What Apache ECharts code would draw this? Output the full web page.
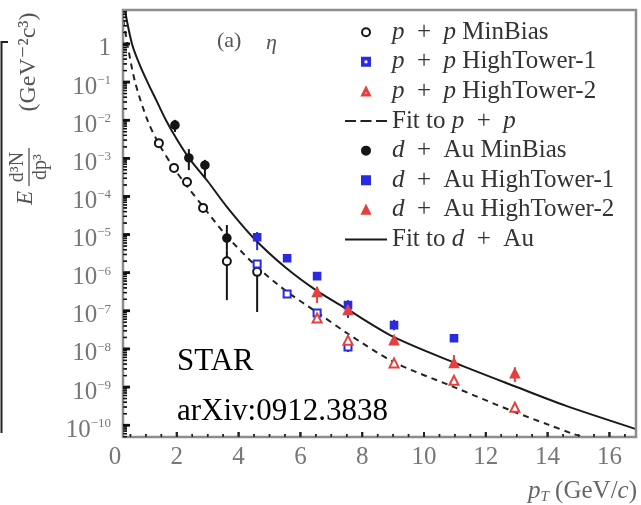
<!DOCTYPE html>
<html>
<head>
<meta charset="utf-8">
<script src="https://cdn.jsdelivr.net/npm/echarts@6/dist/echarts.min.js"></script>
<style>
  html, body { margin: 0; padding: 0; background: #fff; }
  #chart { width: 641px; height: 505px; }
</style>
</head>
<body>
<div id="chart"></div>
<script>
// ---- eta invariant yields vs pT (GeV/c), STAR p+p and d+Au ----
const seriesNames = [
  'p + p MinBias', 'p + p HighTower-1', 'p + p HighTower-2', 'Fit to p + p',
  'd + Au MinBias', 'd + Au HighTower-1', 'd + Au HighTower-2', 'Fit to d + Au'
];

// p+p MinBias
const ppMbPt    = [1.42, 1.91, 2.33, 2.85, 3.62, 4.6];
const ppMbYield = [2.5e-3, 5.6e-4, 2.4e-4, 5.0e-5, 2.0e-6, 1.05e-6];
const ppMbLow   = [2.2e-3, 5.0e-4, 2.1e-4, 4.4e-5, 1.9e-7, 9.3e-8];
const ppMbHigh  = [2.8e-3, 6.3e-4, 2.7e-4, 5.7e-5, 3.9e-6, 1.4e-6];

// p+p HighTower-1
const ppHt1Pt    = [4.6, 5.57, 6.54, 7.54];
const ppHt1Yield = [1.7e-6, 2.75e-7, 8.7e-8, 1.12e-8];
const ppHt1Low   = [1.4e-6, 2.4e-7, 7.6e-8, 8.3e-9];
const ppHt1High  = [2.1e-6, 3.1e-7, 1.0e-7, 1.7e-8];

// p+p HighTower-2
const ppHt2Pt    = [6.54, 7.54, 9.03, 10.97, 12.94];
const ppHt2Yield = [6.5e-8, 1.7e-8, 4.3e-9, 1.5e-9, 2.95e-10];
const ppHt2Low   = [5.6e-8, 1.4e-8, 3.7e-9, 1.2e-9, 2.4e-10];
const ppHt2High  = [7.5e-8, 2.0e-8, 5.0e-9, 1.9e-9, 3.6e-10];

// d+Au MinBias
const daMbPt    = [1.94, 2.39, 2.91, 3.62];
const daMbYield = [7.4e-3, 1.02e-3, 6.6e-4, 8.1e-6];
const daMbLow   = [4.9e-3, 4.9e-4, 3.0e-4, 3.9e-6];
const daMbHigh  = [1.02e-2, 1.74e-3, 9.1e-4, 1.78e-5];

// d+Au HighTower-1
const daHt1Pt    = [4.6, 5.57, 6.54, 7.54, 9.03, 10.97];
const daHt1Yield = [8.5e-6, 2.4e-6, 8.1e-7, 1.41e-7, 4.2e-8, 1.9e-8];
const daHt1Low   = [3.9e-6, 2.0e-6, 6.8e-7, 6.5e-8, 3.1e-8, 1.6e-8];
const daHt1High  = [1.17e-5, 2.9e-6, 9.6e-7, 1.9e-7, 5.8e-8, 2.3e-8];

// d+Au HighTower-2
const daHt2Pt    = [6.54, 7.54, 9.03, 10.97, 12.94];
const daHt2Yield = [3.1e-7, 1.05e-7, 1.7e-8, 4.3e-9, 2.3e-9];
const daHt2Low   = [1.6e-7, 8.0e-8, 1.3e-8, 3.2e-9, 1.35e-9];
const daHt2High  = [4.2e-7, 1.3e-7, 2.1e-8, 6.9e-9, 3.3e-9];

// fit curves
const ppFitPt    = [0.27, 0.4, 0.65, 1.05, 1.42, 1.9, 2.35, 2.85, 3.6, 4.6, 5.57, 6.54, 7.54, 9.03, 10.97, 12.94, 14.0, 14.8, 15.2];
const ppFitYield = [4.2, 1.0, 0.1, 0.01, 2.4e-3, 5.6e-4, 1.78e-4, 5.4e-5, 9.5e-6, 1.41e-6, 3.16e-7, 9.1e-8, 2.5e-8, 4.5e-9, 1.0e-9, 2.2e-10, 1.05e-10, 6.0e-11, 4.7e-11];
const daFitPt    = [0.32, 0.55, 0.8, 1.05, 1.35, 1.65, 2.0, 2.4, 3.0, 3.6, 4.5, 5.5, 6.5, 7.5, 9.0, 11.0, 13.0, 14.6, 16.86];
const daFitYield = [7.76, 1.0, 0.282, 0.1, 0.0316, 0.01, 3.16e-3, 1.0e-3, 2.5e-4, 5.6e-5, 7.9e-6, 1.41e-6, 3.5e-7, 1.12e-7, 2.1e-8, 4.3e-9, 1.0e-9, 3.2e-10, 7.9e-11];

// axis ticks
const xTickLabels = [0, 2, 4, 6, 8, 10, 12, 14, 16];
const xMajorTicks = [2, 4, 6, 8, 10, 12, 14, 16];
const yDecades = [-10, -9, -8, -7, -6, -5, -4, -3, -2, -1, 0];

const X_MAX = 16.86;
const Y_MIN = Math.pow(10, -10.31);
const Y_MAX = Math.pow(10, 0.89);
const Y_AXIS_SHIFT = 8;   // vertical axis sits a little right of pT = 0

const xMinorTicks = [];
for (let v = 0.5; v < X_MAX; v += 0.5) if (v % 2 !== 0) xMinorTicks.push(v);
const yMajorTicks = yDecades.map(e => Math.pow(10, e));
const yMinorTicks = [];
[-11, ...yDecades].forEach(e => {
  for (let m = 2; m <= 9; m++) {
    const v = m * Math.pow(10, e);
    if (v > Y_MIN && v < Y_MAX) yMinorTicks.push(v);
  }
});

const BLUE = '#2a2ae0';
const RED = '#e4403e';
const BLACK = '#151515';
const SERIF = "'Liberation Serif', 'DejaVu Serif', serif";

// legend icons
const ICON_EMPTY_RECT = 'path://M0,0 H10 V10 H0 Z M2,2 V8 H8 V2 Z';
const ICON_EMPTY_TRI = 'path://M0,10 L5,0 L10,10 Z M1.9,8.9 L8.1,8.9 L5,2.6 Z';
const ICON_RECT = 'path://M0,0 H10 V10 H0 Z';
const ICON_TRI = 'path://M0,10 L5,0 L10,10 Z';
const ICON_DASHED = 'path://M0,0 H11 V2 H0 Z M15.5,0 H26.5 V2 H15.5 Z M31,0 H42 V2 H31 Z';
const ICON_SOLID = 'path://M0,0 H42 V2 H0 Z';

const pairs = (xs, ys) => xs.map((x, i) => [x, ys[i]]);
const bars = (xs, lo, hi) => xs.map((x, i) => [x, lo[i], hi[i]]);

function errorBar(params, api) {
  const x = api.value(0);
  const a = api.coord([x, api.value(1)]);
  const b = api.coord([x, api.value(2)]);
  return {
    type: 'line',
    shape: { x1: a[0], y1: a[1], x2: b[0], y2: b[1] },
    style: { stroke: api.visual('color'), lineWidth: 2 }
  };
}
function errSeries(data, color) {
  return {
    type: 'custom', renderItem: errorBar, data: data, z: 2,
    encode: { x: 0, y: [1, 2] }, itemStyle: { color: color }, clip: true
  };
}
function markSeries(name, data, symbol, size, color) {
  return {
    name: name, type: 'scatter', data: data, symbol: symbol, symbolSize: size, z: 3,
    itemStyle: { color: color, borderColor: color, borderWidth: 1.6, opacity: 1 }
  };
}

// tick marks drawn through the axes' scales
function yTickSeries(values, len, width) {
  return {
    type: 'custom', clip: false, z: 6,
    data: values.map(v => [0, v]), encode: { x: 0, y: 1 },
    renderItem: function (params, api) {
      const p = api.coord([0, api.value(1)]);
      const x0 = p[0] + Y_AXIS_SHIFT;
      return { type: 'line', shape: { x1: x0, y1: p[1], x2: x0 + len, y2: p[1] },
        style: { stroke: '#111', lineWidth: width } };
    }
  };
}
function xTickSeries(values, len, width) {
  return {
    type: 'custom', clip: false, z: 6,
    data: values.map(v => [v, Y_MIN]), encode: { x: 0, y: 1 },
    renderItem: function (params, api) {
      const p = api.coord([api.value(0), Y_MIN]);
      return { type: 'line', shape: { x1: p[0], y1: p[1], x2: p[0], y2: p[1] - len },
        style: { stroke: '#222', lineWidth: width } };
    }
  };
}

function legendLabel(name) {
  return name
    .replace(/\bp\b/g, '{i|p}')
    .replace(/\bd\b/g, '{i|d}')
    .replace(/ \+ /g, '\u2002+\u2002');
}

function staticGraphics() {
  return [
    // plot frame
    { type: 'rect', z: 100,
      shape: { x: 123, y: 10, width: 513, height: 427 },
      style: { fill: 'none', stroke: '#8c8c8c', lineWidth: 2.5 } },
    // edge of the neighbouring panel
    { type: 'polyline',
      shape: { points: [[8, 42], [1.5, 42], [1.5, 433]] },
      style: { fill: 'none', stroke: '#222', lineWidth: 2 } },
    // panel tag
    { type: 'text', x: 217, y: 41,
      style: { text: '(a)', font: '22px ' + SERIF, fill: '#555', align: 'left', verticalAlign: 'middle' } },
    { type: 'text', x: 266, y: 43,
      style: { text: 'η', font: 'italic 22px ' + SERIF, fill: '#555', align: 'left', verticalAlign: 'middle' } },
    // experiment tag
    { type: 'text', x: 177, y: 362,
      style: { text: 'STAR', font: '31px ' + SERIF, fill: '#000', align: 'left', verticalAlign: 'middle' } },
    { type: 'text', x: 177, y: 412,
      style: { text: 'arXiv:0912.3838', font: '31px ' + SERIF, fill: '#000', align: 'left', verticalAlign: 'middle' } },
    // x-axis title
    { type: 'text', x: 637, y: 491,
      style: {
        text: '{i|p}{sub|T} (GeV/{i|c})', align: 'right', verticalAlign: 'middle',
        font: '25px ' + SERIF, fill: '#666',
        rich: {
          i: { fontStyle: 'italic', fontSize: 25, lineHeight: 28, fill: '#666', fontFamily: SERIF },
          sub: { fontStyle: 'italic', fontSize: 15, lineHeight: 15, verticalAlign: 'bottom', fill: '#666', fontFamily: SERIF }
        }
      } },
    // y-axis title: E d3N/dp3 (GeV^-2 c^3)
    { type: 'group', x: 29, y: 206, rotation: Math.PI / 2,
      children: [
        { type: 'text', x: 8, y: -3,
          style: { text: 'E', font: 'italic 23px ' + SERIF, fill: '#555', align: 'center', verticalAlign: 'middle' } },
        { type: 'text', x: 39, y: -11,
          style: { text: 'd³N', font: '20px ' + SERIF, fill: '#555', align: 'center', verticalAlign: 'middle' } },
        { type: 'line', shape: { x1: 20, y1: 0, x2: 58, y2: 0 },
          style: { stroke: '#555', lineWidth: 1.3 } },
        { type: 'text', x: 39, y: 12,
          style: { text: 'dp³', font: '20px ' + SERIF, fill: '#555', align: 'center', verticalAlign: 'middle' } },
        { type: 'text', x: 144, y: 0,
          style: { text: '(GeV⁻²c³)', font: '24px ' + SERIF, fill: '#555', align: 'center', verticalAlign: 'middle' } }
      ]
    }
  ];
}

const chart = echarts.init(document.getElementById('chart'), null, { renderer: 'canvas' });

const option = {
  animation: false,
  backgroundColor: '#fff',
  grid: { left: 115, right: 5, top: 10, bottom: 68, containLabel: false, outerBoundsMode: 'none' },
  xAxis: {
    type: 'value', min: 0, max: X_MAX,
    axisLine: { show: false }, axisTick: { show: false }, splitLine: { show: false },
    axisLabel: { customValues: xTickLabels.slice(), margin: 8, fontSize: 25, color: '#777',
      fontFamily: SERIF }
  },
  yAxis: {
    type: 'log', logBase: 10, min: Y_MIN, max: Y_MAX, position: 'left', offset: -Y_AXIS_SHIFT,
    axisLine: { show: false }, axisTick: { show: false }, splitLine: { show: false },
    axisLabel: {
      customValues: yMajorTicks.slice(), margin: 12, padding: [10, 0, 0, 0],
      fontFamily: SERIF, color: '#777',
      formatter: function (v) {
        const e = Math.round(Math.log10(v));
        return e === 0 ? '{b|1}' : '{b|10}{s|\u2212' + (-e) + '}';
      },
      rich: {
        b: { fontSize: 25, lineHeight: 26, color: '#777', fontFamily: SERIF },
        s: { fontSize: 13, lineHeight: 13, verticalAlign: 'top', color: '#777', fontFamily: SERIF }
      }
    }
  },
  legend: {
    orient: 'vertical', left: 345, top: 19, padding: 0,
    itemWidth: 42, itemHeight: 8, itemGap: 3.1, selectedMode: false,
    data: [
      { name: seriesNames[0], icon: 'emptyCircle' },
      { name: seriesNames[1], icon: ICON_EMPTY_RECT },
      { name: seriesNames[2], icon: ICON_EMPTY_TRI },
      { name: seriesNames[3], icon: ICON_DASHED },
      { name: seriesNames[4], icon: 'circle' },
      { name: seriesNames[5], icon: ICON_RECT },
      { name: seriesNames[6], icon: ICON_TRI },
      { name: seriesNames[7], icon: ICON_SOLID }
    ],
    formatter: legendLabel,
    textStyle: {
      fontSize: 25, lineHeight: 26.5, color: '#333', fontFamily: SERIF,
      rich: { i: { fontStyle: 'italic', fontSize: 25, lineHeight: 26.5, color: '#333', fontFamily: SERIF } }
    }
  },
  series: [
    yTickSeries(yMajorTicks, 7, 2.5),
    yTickSeries(yMinorTicks, 4, 1.3),
    xTickSeries(xMajorTicks, 5, 2),
    xTickSeries(xMinorTicks, 3, 1.5),

    errSeries(bars(ppMbPt, ppMbLow, ppMbHigh), BLACK),
    errSeries(bars(ppHt1Pt, ppHt1Low, ppHt1High), BLUE),
    errSeries(bars(ppHt2Pt, ppHt2Low, ppHt2High), RED),
    errSeries(bars(daMbPt, daMbLow, daMbHigh), BLACK),
    errSeries(bars(daHt1Pt, daHt1Low, daHt1High), BLUE),
    errSeries(bars(daHt2Pt, daHt2Low, daHt2High), RED),

    markSeries(seriesNames[0], pairs(ppMbPt, ppMbYield), 'emptyCircle', 8, BLACK),
    markSeries(seriesNames[1], pairs(ppHt1Pt, ppHt1Yield), 'emptyRect', 7, BLUE),
    markSeries(seriesNames[2], pairs(ppHt2Pt, ppHt2Yield), 'emptyTriangle', 9, RED),
    {
      name: seriesNames[3], type: 'line', data: pairs(ppFitPt, ppFitYield),
      symbol: 'none', smooth: 0.3, z: 2, clip: true,
      lineStyle: { color: '#222', width: 2, type: [6, 5] }, itemStyle: { color: '#222' }
    },
    markSeries(seriesNames[4], pairs(daMbPt, daMbYield), 'circle', 8, BLACK),
    markSeries(seriesNames[5], pairs(daHt1Pt, daHt1Yield), 'rect', 7, BLUE),
    markSeries(seriesNames[6], pairs(daHt2Pt, daHt2Yield), 'triangle', 9, RED),
    {
      name: seriesNames[7], type: 'line', data: pairs(daFitPt, daFitYield),
      symbol: 'none', smooth: 0.3, z: 2, clip: true,
      lineStyle: { color: '#1a1a1a', width: 2 }, itemStyle: { color: '#1a1a1a' }
    }
  ]
};

chart.setOption(option);

// same tick marks as overlay lines placed with convertToPixel, drawn above the frame
const tickMarks = [];
try {
  const toPx = (x, y) => chart.convertToPixel({ xAxisIndex: 0, yAxisIndex: 0 }, [x, y]);
  const origin = toPx(0, Y_MIN);
  const axisLeft = origin[0] + Y_AXIS_SHIFT;
  const axisBottom = origin[1];
  const yTick = (v, len, width) => {
    const y = toPx(0, v)[1];
    if (isFinite(y)) tickMarks.push({ type: 'line', z: 110,
      shape: { x1: axisLeft, y1: y, x2: axisLeft + len, y2: y },
      style: { stroke: '#111', lineWidth: width } });
  };
  const xTick = (v, len, width) => {
    const x = toPx(v, Y_MIN)[0];
    if (isFinite(x)) tickMarks.push({ type: 'line', z: 110,
      shape: { x1: x, y1: axisBottom, x2: x, y2: axisBottom - len },
      style: { stroke: '#222', lineWidth: width } });
  };
  yMajorTicks.forEach(v => yTick(v, 7, 2.5));
  yMinorTicks.forEach(v => yTick(v, 4, 1.3));
  xMajorTicks.forEach(v => xTick(v, 5, 2));
  xMinorTicks.forEach(v => xTick(v, 3, 1.5));
} catch (e) { /* overlay is optional */ }

chart.setOption({ graphic: { elements: staticGraphics().concat(tickMarks) } });
</script>
</body>
</html>
